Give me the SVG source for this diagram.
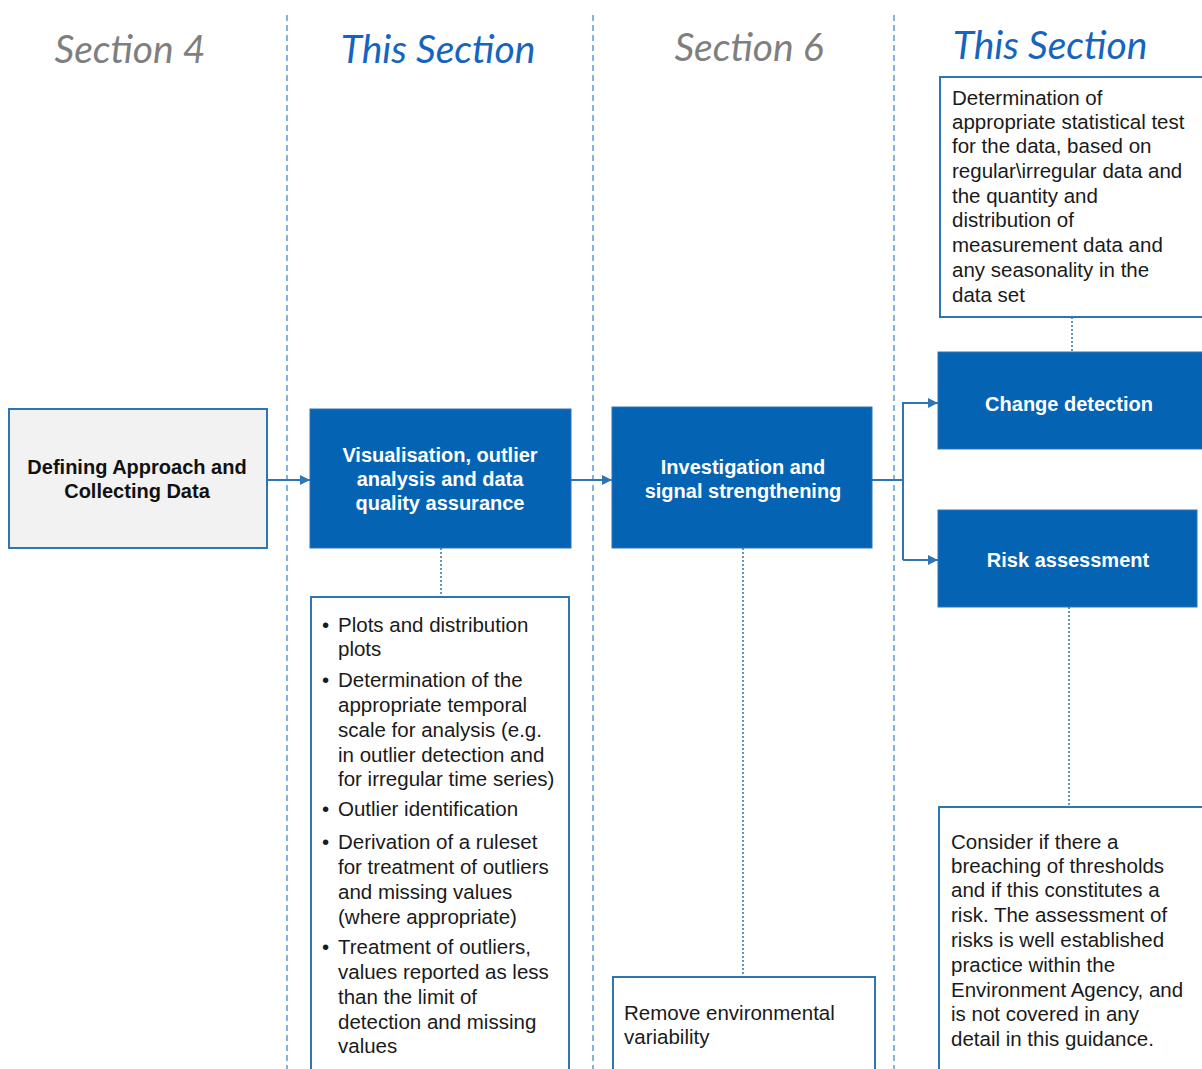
<svg xmlns="http://www.w3.org/2000/svg" width="1202" height="1069" viewBox="0 0 1202 1069">
<defs>
<marker id="ah" viewBox="0 0 10 10" refX="10" refY="5" markerWidth="10" markerHeight="10" markerUnits="userSpaceOnUse" orient="auto">
<path d="M0,0 L10,5 L0,10 Z" fill="#2e75b6"/>
</marker>
<style>
.sep{stroke:#5b9bd5;stroke-width:1.5;stroke-dasharray:6 4;fill:none}
.dot{stroke:#2e75b6;stroke-width:1.5;stroke-dasharray:2 2;fill:none}
.arr{stroke:#2e75b6;stroke-width:2;fill:none}
.head{font-family:Lato,"Open Sans",sans-serif;font-style:italic;font-size:39px;text-anchor:middle}
.grey{fill:#7f7f7f}
.blue{fill:#1565c0}
.solid{fill:#0563b4;stroke:#2e75b6;stroke-width:1}
.note{fill:#ffffff;stroke:#2e75b6;stroke-width:2}
.grey-box{fill:#f2f2f2;stroke:#2e75b6;stroke-width:2}
.lbl{font-family:"Liberation Sans",Arial,sans-serif;font-weight:bold;font-size:20px;text-anchor:middle}
.w{fill:#ffffff}
.k{fill:#111111}
.txt{font-family:"Liberation Sans",Arial,sans-serif;font-size:20.5px;fill:#1a1a1a}
</style>
</defs>
<rect width="1202" height="1069" fill="#ffffff"/>
<g id="separators">
<line class="sep" x1="287" y1="15" x2="287" y2="1069"/>
<line class="sep" x1="593" y1="15" x2="593" y2="1069"/>
<line class="sep" x1="894" y1="15" x2="894" y2="1069"/>
</g>
<g id="headings">
<text class="head grey" x="130" y="63">Section 4</text>
<text class="head blue" x="438" y="63">This Section</text>
<text class="head grey" x="749" y="61">Section 6</text>
<text class="head blue" x="1050" y="59">This Section</text>
</g>
<g id="connectors">
<line class="arr" x1="267" y1="480" x2="310" y2="480" marker-end="url(#ah)"/>
<line class="arr" x1="571" y1="480" x2="612" y2="480" marker-end="url(#ah)"/>
<polyline class="arr" points="872,480 903,480"/>
<polyline class="arr" points="903,560 903,403 938,403" marker-end="url(#ah)"/>
<polyline class="arr" points="903,560 938,560" marker-end="url(#ah)"/>
<line class="dot" x1="441" y1="548" x2="441" y2="597"/>
<line class="dot" x1="743" y1="548" x2="743" y2="977"/>
<line class="dot" x1="1072" y1="317" x2="1072" y2="352"/>
<line class="dot" x1="1069" y1="607" x2="1069" y2="807"/>
</g>
<g id="n-define">
<rect class="grey-box" x="9" y="409" width="258" height="139"/>
<text class="lbl k" x="137" y="474">Defining Approach and</text>
<text class="lbl k" x="137" y="498">Collecting Data</text>
</g>
<g id="n-visual">
<rect class="solid" x="310" y="409" width="261" height="139"/>
<text class="lbl w" x="440" y="462">Visualisation, outlier</text>
<text class="lbl w" x="440" y="486">analysis and data</text>
<text class="lbl w" x="440" y="510">quality assurance</text>
</g>
<g id="n-invest">
<rect class="solid" x="612" y="407" width="260" height="141"/>
<text class="lbl w" x="743" y="474">Investigation and</text>
<text class="lbl w" x="743" y="498">signal strengthening</text>
</g>
<g id="n-change">
<rect class="solid" x="938" y="352" width="270" height="97"/>
<text class="lbl w" x="1069" y="411">Change detection</text>
</g>
<g id="n-risk">
<rect class="solid" x="938" y="510" width="259" height="97"/>
<text class="lbl w" x="1068" y="567">Risk assessment</text>
</g>
<g id="n-stat">
<rect class="note" x="940" y="77" width="270" height="240"/>
<text class="txt" x="952" y="105">Determination of</text>
<text class="txt" x="952" y="129">appropriate statistical test</text>
<text class="txt" x="952" y="153">for the data, based on</text>
<text class="txt" x="952" y="178">regular\irregular data and</text>
<text class="txt" x="952" y="203">the quantity and</text>
<text class="txt" x="952" y="227">distribution of</text>
<text class="txt" x="952" y="252">measurement data and</text>
<text class="txt" x="952" y="277">any seasonality in the</text>
<text class="txt" x="952" y="302">data set</text>
</g>
<g id="n-bullets">
<rect class="note" x="311" y="597" width="258" height="480"/>
<text class="txt" x="322" y="632">•</text>
<text class="txt" x="338" y="632">Plots and distribution</text>
<text class="txt" x="338" y="656">plots</text>
<text class="txt" x="322" y="687">•</text>
<text class="txt" x="338" y="687">Determination of the</text>
<text class="txt" x="338" y="712">appropriate temporal</text>
<text class="txt" x="338" y="737">scale for analysis (e.g.</text>
<text class="txt" x="338" y="762">in outlier detection and</text>
<text class="txt" x="338" y="786">for irregular time series)</text>
<text class="txt" x="322" y="816">•</text>
<text class="txt" x="338" y="816">Outlier identification</text>
<text class="txt" x="322" y="849">•</text>
<text class="txt" x="338" y="849">Derivation of a ruleset</text>
<text class="txt" x="338" y="874">for treatment of outliers</text>
<text class="txt" x="338" y="899">and missing values</text>
<text class="txt" x="338" y="924">(where appropriate)</text>
<text class="txt" x="322" y="954">•</text>
<text class="txt" x="338" y="954">Treatment of outliers,</text>
<text class="txt" x="338" y="979">values reported as less</text>
<text class="txt" x="338" y="1004">than the limit of</text>
<text class="txt" x="338" y="1029">detection and missing</text>
<text class="txt" x="338" y="1053">values</text>
</g>
<g id="n-remove">
<rect class="note" x="613" y="977" width="262" height="100"/>
<text class="txt" x="624" y="1020">Remove environmental</text>
<text class="txt" x="624" y="1044">variability</text>
</g>
<g id="n-riskinfo">
<rect class="note" x="939" y="807" width="270" height="270"/>
<text class="txt" x="951" y="849">Consider if there a</text>
<text class="txt" x="951" y="873">breaching of thresholds</text>
<text class="txt" x="951" y="897">and if this constitutes a</text>
<text class="txt" x="951" y="922">risk. The assessment of</text>
<text class="txt" x="951" y="947">risks is well established</text>
<text class="txt" x="951" y="972">practice within the</text>
<text class="txt" x="951" y="997">Environment Agency, and</text>
<text class="txt" x="951" y="1021">is not covered in any</text>
<text class="txt" x="951" y="1046">detail in this guidance.</text>
</g>
</svg>
